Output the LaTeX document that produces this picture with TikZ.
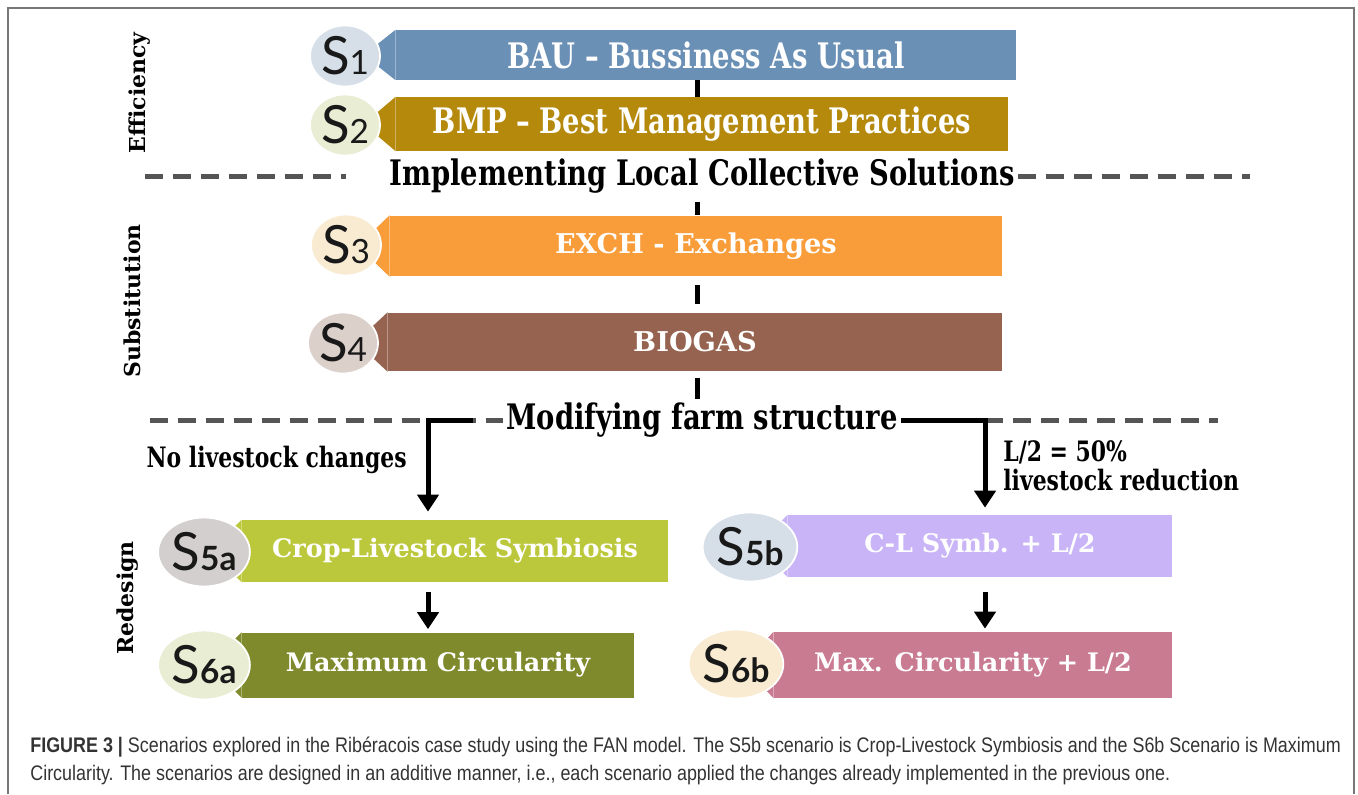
\documentclass[tikz,border=0pt]{standalone}
\usepackage{fontspec}
\setmainfont{DejaVu Serif}
\newfontfamily\condserif[FakeStretch=0.78]{DejaVu Serif}
\newfontfamily\discfont{Lato}
\newfontfamily\capfont[FakeStretch=0.85]{Liberation Sans}
\usepackage{tikz}
\usetikzlibrary{arrows.meta,shapes.geometric,calc}

\definecolor{bauBlue}{HTML}{6A90B6}
\definecolor{bmpGold}{HTML}{B5890C}
\definecolor{exchOrange}{HTML}{F99D3A}
\definecolor{biogasBrown}{HTML}{956350}
\definecolor{symbGreen}{HTML}{BCC83C}
\definecolor{circOlive}{HTML}{7E8A2B}
\definecolor{symbLilac}{HTML}{C8B4F6}
\definecolor{circRose}{HTML}{C97B92}
\definecolor{discBlue}{HTML}{D6DFE8}
\definecolor{discLime}{HTML}{E9EDD3}
\definecolor{discCream}{HTML}{F8EBD2}
\definecolor{discMauve}{HTML}{DCD0CA}
\definecolor{discGrey}{HTML}{D4CFCF}
\definecolor{sepGrey}{HTML}{555555}
\definecolor{capGrey}{HTML}{333333}

\newcommand{\scenidx}[1]{{\fontsize{19}{19}\selectfont #1}}

\begin{document}
\begin{tikzpicture}[x=0.02cm,y=-0.02cm,
    banner/.style={rectangle,inner sep=0pt,text=white,font=\condserif\bfseries\fontsize{20}{24}\selectfont},
    broad/.style={font=\bfseries\fontsize{15.5}{18}\selectfont},
    lower/.style={font=\bfseries\fontsize{14.5}{17}\selectfont},
    disc/.style={ellipse,draw=white,line width=1pt,inner sep=0pt,minimum width=1.4cm,minimum height=1.22cm,
                 text=black!90,font=\discfont\fontsize{30}{30}\selectfont},
    big disc/.style={disc,minimum width=1.62cm,minimum height=1.38cm},
    heading/.style={font=\condserif\bfseries\fontsize{20}{24}\selectfont,inner sep=2pt},
    note/.style={font=\condserif\bfseries\fontsize{16}{16.5}\selectfont,inner sep=0pt},
    side/.style={font=\bfseries\fontsize{12.5}{14}\selectfont,rotate=90,inner sep=0pt},
    link/.style={line width=0.1cm},
    flow/.style={line width=0.1cm,-{Triangle[length=0.34cm,width=0.42cm]}},
    sepline/.style={sepGrey,line width=0.1cm,dash pattern=on 0.36cm off 0.2cm},
    caption/.style={text=capGrey,font=\capfont\fontsize{12}{15.9}\selectfont,inner sep=0pt}]

\useasboundingbox (0,0) rectangle (1358,794);
\draw[sepGrey!80,line width=1pt] (8,794) -- (8,8) -- (1354,8) -- (1354,794);

% banners
\node[banner,fill=bauBlue,minimum width=12.4cm,minimum height=1cm] (b1) at (706,55) {BAU – Bussiness As Usual};
\node[banner,fill=bmpGold,minimum width=12.24cm,minimum height=1.08cm] (b2) at (702,124) {BMP – Best Management Practices};
\node[banner,broad,fill=exchOrange,minimum width=12.24cm,minimum height=1.22cm] (b3) at (696,246) {EXCH - Exchanges};
\node[banner,broad,fill=biogasBrown,minimum width=12.28cm,minimum height=1.18cm] (b4) at (695,342) {BIOGAS};
\node[banner,lower,fill=symbGreen,minimum width=8.52cm,minimum height=1.24cm] (b5a) at (455,551) {Crop-Livestock Symbiosis};
\node[banner,lower,fill=circOlive,minimum width=7.84cm,minimum height=1.3cm] (b6a) at (438,665) {Maximum Circularity};
\node[banner,lower,fill=symbLilac,minimum width=7.68cm,minimum height=1.24cm] (b5b) at (980,546) {C-L Symb. + L/2};
\node[banner,lower,fill=circRose,minimum width=7.96cm,minimum height=1.32cm] (b6b) at (973,665) {Max. Circularity + L/2};

\foreach \b/\c in {b1/bauBlue,b2/bmpGold,b3/exchOrange,b4/biogasBrown,
                   b5a/symbGreen,b6a/circOlive,b5b/symbLilac,b6b/circRose}
  \fill[\c] (\b.north west) -- ($(\b.west)+(-32,0)$) -- (\b.south west) -- cycle;

% scenario discs
\node[disc,fill=discBlue] (s1) at (345,56) {S\scenidx{1}};
\node[disc,fill=discLime] (s2) at (345,125) {S\scenidx{2}};
\node[disc,fill=discCream] (s3) at (346,245) {S\scenidx{3}};
\node[disc,fill=discMauve] (s4) at (343,343) {S\scenidx{4}};
\node[big disc,fill=discGrey] (s5a) at (204,552) {S\scenidx{\bfseries 5a}};
\node[big disc,fill=discLime] (s6a) at (204,665) {S\scenidx{\bfseries 6a}};
\node[big disc,fill=discBlue] (s5b) at (750,547) {S\scenidx{\bfseries 5b}};
\node[big disc,fill=discCream] (s6b) at (736,664) {S\scenidx{\bfseries 6b}};

% levels
\node[heading] (h1) at (702,176) {Implementing Local Collective Solutions};
\node[heading] (h2) at (702,420) {Modifying farm structure};
\coordinate (d1l) at (145,176);
\coordinate (d1r) at (1250,176);
\coordinate (d2l) at (150,420);
\coordinate (d2r) at (1218,420);
\draw[sepline,shorten >=0.8cm] (d1l) -- (h1.west |- d1l);
\draw[sepline] (h1.east |- d1r) -- (d1r);
\draw[sepline] (d2l) -- (h2.west |- d2l);
\draw[sepline] (h2.east |- d2r) -- (d2r);

\node[side] (eff) at (140,93) {Efficiency};
\node[side] (subst) at (132,301) {Substitution};
\node[side] (redes) at (128,598) {Redesign};

% connectors
\coordinate (spine) at (697,0);
\coordinate (forkA) at (428,420);
\coordinate (forkB) at (985,420);
\draw[link] (b1.south -| spine) -- (b2.north -| spine);
\draw[link,shorten <=0.1cm] (h1.south -| spine) -- (b3.north -| spine);
\draw[link,shorten <=0.16cm,shorten >=0.16cm] (b3.south -| spine) -- (b4.north -| spine);
\draw[link,shorten <=0.12cm] (b4.south -| spine) -- (h2.north -| spine);
\draw[flow,shorten <=0.6cm,shorten >=0.16cm] (h2.west |- forkA) -- (forkA) -- (forkA |- b5a.north);
\draw[flow,shorten >=0.14cm] (h2.east |- forkB) -- (forkB) -- (forkB |- b5b.north);
\draw[flow,shorten <=0.2cm,shorten >=0.06cm] (b5a.south -| forkA) -- (b6a.north -| forkA);
\draw[flow,shorten <=0.3cm,shorten >=0.06cm] (b5b.south -| forkB) -- (b6b.north -| forkB);

\node[note,anchor=east] (nochg) at (407,460) {No livestock changes};
\node[note,anchor=west,align=left] (halved) at (1003,466) {L/2 = 50\%\\livestock reduction};

% caption
\node[caption,anchor=base west] (cap1) at (30,752) {{\bfseries FIGURE 3 |} Scenarios explored in the Ribéracois case study using the FAN model. The S5b scenario is Crop-Livestock Symbiosis and the S6b Scenario is Maximum};
\node[caption,anchor=base west] (cap2) at (30,780) {Circularity. The scenarios are designed in an additive manner, i.e., each scenario applied the changes already implemented in the previous one.};
\end{tikzpicture}
\end{document}
